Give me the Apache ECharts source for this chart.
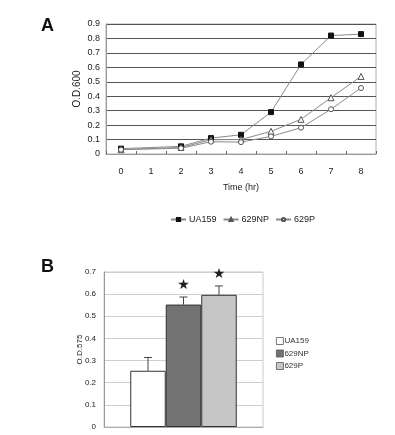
<!DOCTYPE html>
<html><head><meta charset="utf-8">
<script src="https://cdn.jsdelivr.net/npm/echarts@6/dist/echarts.min.js"></script>
<style>html,body{margin:0;padding:0;background:#fff;}#c{width:395px;height:435px;}</style>
</head><body><div id="c"></div>
<script>
// Panel A: growth curves
var timeCats = ['0','1','2','3','4','5','6','7','8'];
var ua159Growth = [0.037, null, 0.053, 0.11, 0.133, 0.29, 0.62, 0.82, 0.83];
var np629Growth = [0.03, null, 0.045, 0.099, 0.10, 0.157, 0.24, 0.39, 0.537];
var p629Growth  = [0.03, null, 0.04, 0.085, 0.082, 0.122, 0.182, 0.31, 0.457];
// Panel B: biofilm OD575
var strains = ['UA159', '629NP', '629P'];
var biofilmMean = [0.254, 0.553, 0.597];
var biofilmErr  = [0.06, 0.034, 0.04];
var significant = [false, true, true];

var FONT = 'Liberation Sans, Arial, sans-serif';
var chart = echarts.init(document.getElementById('c'), null, {renderer:'canvas'});

var barColors = ['#ffffff', '#737373', '#c6c6c6'];
var series = [];
var lineDefs = [
  {name:'UA159', data:ua159Growth, symbol:'rect', size:5, fill:'#111', border:'#111'},
  {name:'629NP', data:np629Growth, symbol:'triangle', size:6, fill:'#fff', border:'#555'},
  {name:'629P',  data:p629Growth,  symbol:'circle', size:5, fill:'#fff', border:'#555'}
];
lineDefs.forEach(function(d){
  series.push({
    type:'line', name:d.name, xAxisIndex:0, yAxisIndex:0, data:d.data,
    connectNulls:true, symbol:d.symbol, symbolSize:d.size, showSymbol:true,
    lineStyle:{color:'#8a8a8a', width:1},
    itemStyle:{color:d.fill, borderColor:d.border, borderWidth:1},
    animation:false, z:3
  });
});
strains.forEach(function(s, i){
  series.push({
    type:'bar', name:'bar_' + s, xAxisIndex:1, yAxisIndex:1,
    data:[biofilmMean[i]], barGap:'0%', barCategoryGap:'33%',
    itemStyle:{color:barColors[i], borderColor:'#333', borderWidth:1},
    animation:false
  });
});
var errData = strains.map(function(s, i){ return [0, i, biofilmMean[i], biofilmMean[i] + biofilmErr[i], significant[i] ? 1 : 0]; });
series.push({
  type:'custom', name:'err', xAxisIndex:1, yAxisIndex:1, data:errData, z:5, animation:false,
  renderItem:function(params, api){
    var cat = api.value(0), idx = api.value(1);
    var lo = api.coord([cat, api.value(2)]);
    var hi = api.coord([cat, api.value(3)]);
    var band = api.size([1, 0])[0];
    var total = band * (1 - 0.33);
    var each = total / 3;
    var x = lo[0] - total / 2 + each * (idx + 0.5);
    var children = [
      {type:'line', shape:{x1:x, y1:lo[1], x2:x, y2:hi[1]}, style:{stroke:'#444', lineWidth:1}},
      {type:'line', shape:{x1:x-4, y1:hi[1], x2:x+4, y2:hi[1]}, style:{stroke:'#444', lineWidth:1}}
    ];
    if (api.value(4)) {
      children.push({type:'text', style:{text:'★', x:x, y:hi[1]-12, fill:'#222', font:'14px DejaVu Sans', align:'center', verticalAlign:'middle'}});
    }
    return {type:'group', children:children};
  }
});

var axisLbl = {color:'#222', fontSize:9, fontFamily:FONT};
chart.setOption({
  animation:false,
  graphic:[
    {type:'text', left:41, top:17, style:{text:'A', font:'bold 18px Liberation Sans, Arial', fill:'#111'}},
    {type:'text', left:41, top:258, style:{text:'B', font:'bold 18px Liberation Sans, Arial', fill:'#111'}}
  ],
  legend:[
    {data:['UA159','629NP','629P'], left:165, top:210, itemWidth:15, itemHeight:4, itemGap:6,
     textStyle:{fontSize:9, color:'#222', fontFamily:FONT, padding:[0,0,0,-2]}},
    {data:strains.map(function(s, i){return {name:'bar_' + s, icon:'rect', itemStyle:{color:barColors[i], borderColor:'#555', borderWidth:0.8}};}),
     formatter:function(n){return n.replace('bar_','');},
     orient:'vertical', left:271, top:332,
     itemWidth:7, itemHeight:7, itemGap:4.5, textStyle:{fontSize:8, color:'#333', fontFamily:FONT, padding:[0,0,0,-4]}}
  ],
  grid:[
    {left:106, top:24, width:270, height:130, show:true, borderColor:'#b0b0b0', borderWidth:1},
    {left:104, top:272, width:159, height:155, show:true, borderColor:'#c8c8c8', borderWidth:1}
  ],
  xAxis:[
    {type:'category', gridIndex:0, data:timeCats, boundaryGap:true,
     axisLine:{lineStyle:{color:'#999'}}, axisTick:{show:true, inside:true, length:3, lineStyle:{color:'#666'}},
     axisLabel:Object.assign({margin:13, interval:0}, axisLbl),
     name:'Time (hr)', nameLocation:'middle', nameGap:29, nameMoveOverlap:false,
     nameTextStyle:{fontSize:9, color:'#222', fontFamily:FONT}},
    {type:'category', gridIndex:1, data:['biofilm'],
     axisLine:{lineStyle:{color:'#aaa'}}, axisTick:{show:false}, axisLabel:{show:false}}
  ],
  yAxis:[
    {type:'value', gridIndex:0, min:0, max:0.9, interval:0.1,
     axisLine:{show:true, lineStyle:{color:'#999'}}, axisTick:{show:false},
     axisLabel:Object.assign({margin:6, formatter:function(v){return +v.toFixed(1)+'';}}, axisLbl),
     splitLine:{lineStyle:{color:'#555', width:1}},
     name:'O.D.600', nameLocation:'middle', nameGap:24, nameMoveOverlap:false,
     nameTextStyle:{fontSize:10, color:'#222', fontFamily:FONT}},
    {type:'value', gridIndex:1, min:0, max:0.7, interval:0.1,
     axisLine:{show:true, lineStyle:{color:'#999'}}, axisTick:{show:false},
     axisLabel:Object.assign({margin:8, formatter:function(v){return +v.toFixed(1)+'';}}, axisLbl, {fontSize:8}),
     splitLine:{lineStyle:{color:'#cfcfcf', width:1}},
     name:'O.D.575', nameLocation:'middle', nameGap:20, nameMoveOverlap:false,
     nameTextStyle:{fontSize:8, color:'#222', fontFamily:FONT}}
  ],
  series:series
});
</script></body></html>
